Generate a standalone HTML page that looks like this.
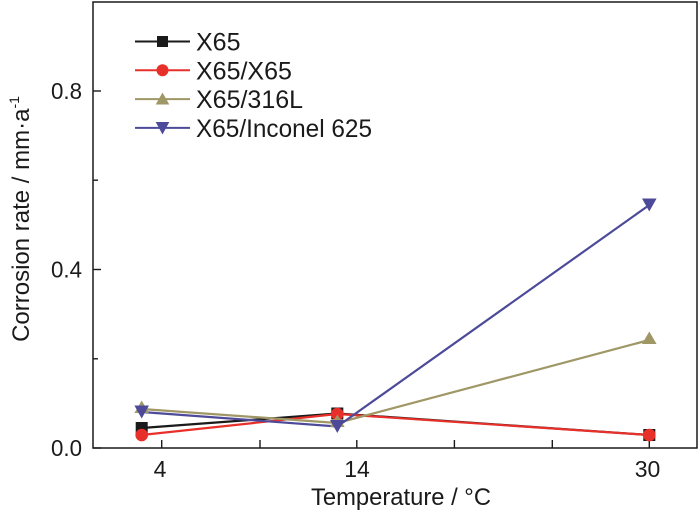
<!DOCTYPE html>
<html>
<head>
<meta charset="utf-8">
<style>
  html, body { margin:0; padding:0; background:#ffffff; }
  body { width:700px; height:512px; overflow:hidden; }
  svg { display:block; }
  text { font-family: "Liberation Sans", "DejaVu Sans", sans-serif; fill:#1a1a1a; }
</style>
</head>
<body>
<svg width="700" height="512" viewBox="0 0 700 512" xmlns="http://www.w3.org/2000/svg">
  <rect x="0" y="0" width="700" height="512" fill="#ffffff"/>

  <!-- Y ticks (inward) -->
  <g stroke="#1a1a1a" stroke-width="1.4">
    <line x1="93" y1="448" x2="101" y2="448"/>
    <line x1="93" y1="358.8" x2="98" y2="358.8"/>
    <line x1="93" y1="269.5" x2="101" y2="269.5"/>
    <line x1="93" y1="180.2" x2="98" y2="180.2"/>
    <line x1="93" y1="91" x2="101" y2="91"/>
  </g>
  <!-- X ticks (inward) -->
  <g stroke="#1a1a1a" stroke-width="1.4">
    <line x1="161.7" y1="448" x2="161.7" y2="440"/>
    <line x1="260" y1="448" x2="260" y2="440"/>
    <line x1="356.8" y1="448" x2="356.8" y2="440"/>
    <line x1="454.4" y1="448" x2="454.4" y2="440"/>
    <line x1="552.3" y1="448" x2="552.3" y2="440"/>
    <line x1="649.3" y1="448" x2="649.3" y2="440"/>
  </g>

  <!-- Series lines -->
  <g fill="none" stroke-width="2.2" stroke-linejoin="round">
    <polyline points="141.7,428 337.3,413.5 649.3,435" stroke="#1a1a1a"/>
    <polyline points="141.7,435 337.3,414 649.3,435" stroke="#e8302a"/>
    <polyline points="141.7,409 337.3,423 649.3,340" stroke="#9f9766"/>
    <polyline points="141.7,412 337.3,426.5 649.3,205" stroke="#4d4b99"/>
  </g>

  <!-- Markers: X65 squares -->
  <g fill="#1a1a1a">
    <rect x="135.7" y="422" width="12" height="12"/>
    <rect x="331.3" y="407.5" width="12" height="12"/>
    <rect x="643.3" y="429" width="12" height="12"/>
  </g>
  <!-- X65/X65 circles -->
  <g fill="#e8302a">
    <circle cx="141.7" cy="435" r="6.3"/>
    <circle cx="337.3" cy="414" r="6.3"/>
    <circle cx="649.3" cy="435" r="6.3"/>
  </g>
  <!-- X65/316L triangles -->
  <g fill="#9f9766">
    <polygon points="141.7,400.5 149,413 134.4,413"/>
    <polygon points="337.3,414.5 344.6,427 330,427"/>
    <polygon points="649.3,331.5 656.6,344 642,344"/>
  </g>
  <!-- X65/Inconel 625 inverted triangles -->
  <g fill="#4d4b99">
    <polygon points="134.4,405.5 149,405.5 141.7,418.5"/>
    <polygon points="330,420 344.6,420 337.3,433"/>
    <polygon points="642,198.5 656.6,198.5 649.3,211.5"/>
  </g>

  <!-- Frame -->
  <rect x="93" y="2" width="604" height="446" fill="none" stroke="#1a1a1a" stroke-width="1.5"/>

  <!-- Y tick labels -->
  <g font-size="23" text-anchor="end">
    <text x="82" y="456" textLength="31" lengthAdjust="spacingAndGlyphs">0.0</text>
    <text x="82" y="277.5" textLength="31" lengthAdjust="spacingAndGlyphs">0.4</text>
    <text x="82" y="99" textLength="31" lengthAdjust="spacingAndGlyphs">0.8</text>
  </g>
  <!-- X tick labels -->
  <g font-size="23" text-anchor="middle">
    <text x="160" y="477">4</text>
    <text x="357" y="477">14</text>
    <text x="647.5" y="477">30</text>
  </g>

  <!-- Axis titles -->
  <text x="311" y="505" font-size="24" textLength="180" lengthAdjust="spacingAndGlyphs">Temperature / °C</text>
  <text transform="translate(29,219) rotate(-90)" font-size="24" text-anchor="middle">Corrosion rate / mm·a<tspan font-size="14" dy="-10">-1</tspan></text>

  <!-- Legend -->
  <g stroke-width="2">
    <line x1="135" y1="41.5" x2="190" y2="41.5" stroke="#1a1a1a"/>
    <line x1="135" y1="70.3" x2="190" y2="70.3" stroke="#e8302a"/>
    <line x1="135" y1="99.1" x2="190" y2="99.1" stroke="#9f9766"/>
    <line x1="135" y1="127.9" x2="190" y2="127.9" stroke="#4d4b99"/>
  </g>
  <rect x="157" y="36" width="11" height="11" fill="#1a1a1a"/>
  <circle cx="162.5" cy="70.3" r="6" fill="#e8302a"/>
  <polygon points="162.5,92.5 169.3,104.5 155.7,104.5" fill="#9f9766"/>
  <polygon points="155.7,122 169.3,122 162.5,134.5" fill="#4d4b99"/>
  <g font-size="25">
    <text x="196" y="50.5">X65</text>
    <text x="196" y="79.3">X65/X65</text>
    <text x="196" y="108.1">X65/316L</text>
    <text x="196" y="136.9" textLength="176" lengthAdjust="spacingAndGlyphs">X65/Inconel 625</text>
  </g>
</svg>
</body>
</html>
